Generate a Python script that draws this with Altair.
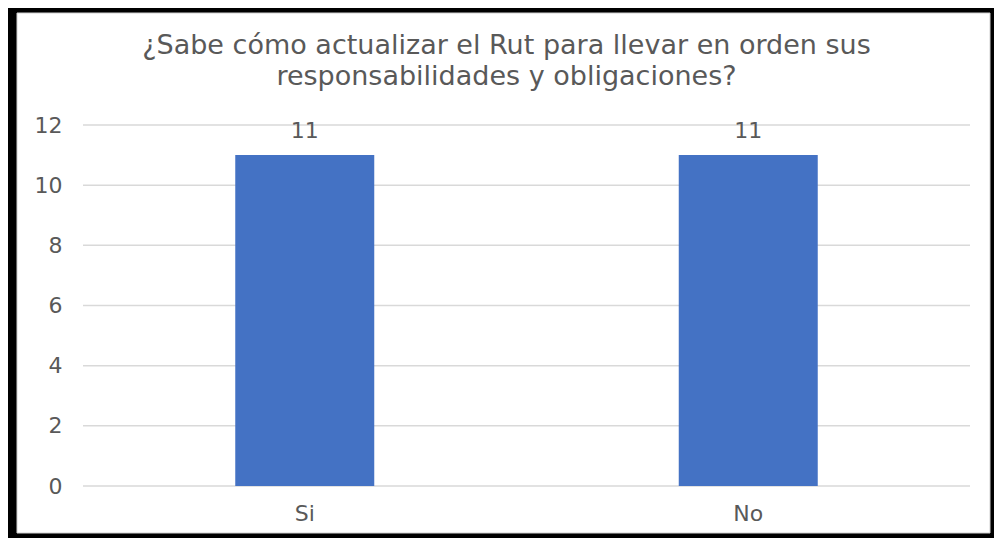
import altair as alt
import pandas as pd

categories = ["Si", "No"]
values = [11, 11]
y_ticks = [0, 2, 4, 6, 8, 10, 12]
title_lines = ["¿Sabe cómo actualizar el Rut para llevar en orden sus",
               "responsabilidades y obligaciones?"]

df = pd.DataFrame({"cat": categories, "val": values})
ticks_df = pd.DataFrame({"t": y_ticks})

W, H = 887, 361
GREY = "#595959"
FONT = "DejaVu Sans"

frame = alt.Chart(pd.DataFrame({"a": [0]})).mark_rect(
    color="white", stroke="#d0d0d0", strokeWidth=1
).encode(
    x=alt.value(-66), x2=alt.value(907), y=alt.value(-112), y2=alt.value(408)
)

yscale = alt.Scale(domain=[0, 12])
yaxis = alt.Axis(values=y_ticks, labelFontSize=22, labelColor=GREY, grid=False,
                 labelFont=FONT, domain=False, ticks=False, labelPadding=21, zindex=1)

grid = alt.Chart(ticks_df).mark_rule(color="#d9d9d9", strokeWidth=1.5).encode(
    y=alt.Y("t:Q", scale=yscale, axis=yaxis, title=None)
)

xenc = alt.X("cat:N", sort=categories, title=None,
             scale=alt.Scale(paddingInner=0, paddingOuter=0),
             axis=alt.Axis(labelAngle=0, labelFontSize=22, labelColor=GREY, labelFont=FONT,
                           domain=False, ticks=False, labelPadding=17, zindex=1))
yenc = alt.Y("val:Q", title=None, scale=yscale, axis=yaxis)

bars = alt.Chart(df).mark_bar(color="#4472c4", size=139).encode(x=xenc, y=yenc)
labels = alt.Chart(df).mark_text(dy=-24, fontSize=22, color=GREY, font=FONT).encode(
    x=alt.X("cat:N", sort=categories), y="val:Q", text="val:Q")

chart = alt.layer(frame, grid, bars, labels).properties(
    width=W, height=H,
    autosize=alt.AutoSizeParams(type="none"),
    padding={"left": 75, "top": 117, "right": 24, "bottom": 52},
    background="black",
    title=alt.TitleParams(text=title_lines, fontSize=27, font=FONT, color=GREY, fontWeight="normal",
                          anchor="middle", dx=-20, offset=-78, lineHeight=31, zindex=1),
).configure_view(stroke=None)

chart.save("out.html", embed_options={"renderer": "svg", "actions": False})
